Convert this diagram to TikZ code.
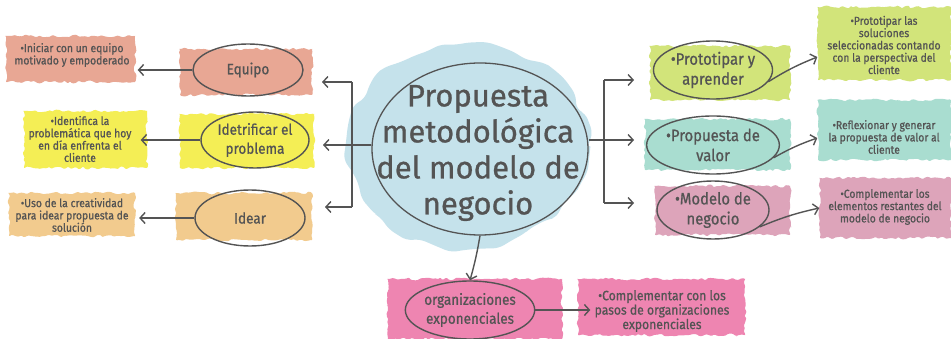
\documentclass[tikz,border=0pt]{standalone}
\usepackage{fontspec}
\newfontfamily\hand{Fira Sans}[FakeStretch=0.9,FakeBold=0.8]
\newfontfamily\bighand{Fira Sans}[FakeStretch=1.0,FakeBold=0.8]
\usetikzlibrary{shapes.geometric,arrows.meta,decorations.pathmorphing}
\definecolor{ink}{HTML}{545454}
\definecolor{cSalmon}{HTML}{E8A794}
\definecolor{cYellow}{HTML}{F4EE55}
\definecolor{cBeige}{HTML}{F2CB8E}
\definecolor{cLime}{HTML}{D2E47A}
\definecolor{cTeal}{HTML}{A9DDD0}
\definecolor{cMauve}{HTML}{DDA4BA}
\definecolor{cPink}{HTML}{EE85B1}
\definecolor{cBlue}{HTML}{BCDDE8}
\begin{document}
\begin{tikzpicture}[x=1pt,y=-1pt,
  blobdeco/.style={decorate,decoration={random steps,segment length=3pt,amplitude=1.5pt},rounded corners=1pt},
  bubble/.style={ellipse,draw=ink,line width=1.4pt,inner sep=0pt,align=center,text=ink,
    font=\hand\fontsize{15}{19}\selectfont},
  rbubble/.style={bubble,font=\hand\fontsize{16.5}{20}\selectfont},
  note/.style={align=center,inner sep=0pt,text=ink,font=\hand\fontsize{11.5}{12.3}\selectfont},
  arr/.style={draw=ink,line width=1.4pt,-{Straight Barb[length=5pt,width=11pt,line width=1.4pt]}},
  bracket/.style={draw=ink,line width=1.5pt}
]
\pgfmathsetseed{7}
\fill[white] (0,0) rectangle (951,339);
\useasboundingbox (0,0) rectangle (951,339);

% ---------- blobs (brush strokes) ----------
\fill[cSalmon,blobdeco] (6,36) rectangle (135,82);
\fill[cYellow,blobdeco] (24,111) rectangle (147,168);
\fill[cBeige,blobdeco] (9,193) rectangle (135,236);
\fill[cSalmon,blobdeco] (180,49) rectangle (312,95);
\fill[cYellow,blobdeco] (180,114) rectangle (314,168);
\fill[cBeige,blobdeco] (176,193) rectangle (312,240);
\fill[cBlue,opacity=0.85,decorate,decoration={random steps,segment length=14pt,amplitude=5pt},rounded corners=6pt]
  (468,146) ellipse [x radius=120pt,y radius=102pt];
\fill[cLime,blobdeco] (650,46) rectangle (790,100);
\fill[cTeal,blobdeco] (645,119) rectangle (790,170);
\fill[cMauve,blobdeco] (655,186) rectangle (790,235);
\fill[cLime,blobdeco] (818,7) rectangle (951,80);
\fill[cTeal,blobdeco] (818,100) rectangle (951,160);
\fill[cMauve,blobdeco] (820,178) rectangle (951,238);
\fill[cPink,blobdeco] (388,279) rectangle (562,339);
\fill[cPink,blobdeco] (578,279) rectangle (745,335);

% ---------- left notes ----------
\node[note,minimum width=129pt] (b1) at (72,55) {•Iniciar con un equipo\\motivado y empoderado};
\node[note,minimum width=123pt] (b2) at (80,139) {•Identifica la\\problemática que hoy\\en día enfrenta el\\cliente};
\node[note,minimum width=126pt] (b3) at (72,215) {•Uso de la creatividad\\para idear propuesta de\\solución};

% ---------- left bubbles ----------
\node[bubble,minimum width=110pt,minimum height=52pt] (e1) at (248,70) {Equipo};
\node[bubble,minimum width=108pt,minimum height=56pt] (e2) at (255,140) {Idetrificar el\\problema};
\node[bubble,minimum width=110pt,minimum height=56pt] (e3) at (250,218) {Idear};

% ---------- center ----------
\node[ellipse,draw=ink,line width=1.3pt,minimum width=216pt,minimum height=172pt,inner sep=0pt] (c) at (480,149) {};
\node[align=center,text=ink,inner sep=0pt,font=\bighand\fontsize{31}{36}\selectfont] (ct) at (478,153)
  {Propuesta\\metodológica\\del modelo de\\negocio};

% ---------- right bubbles ----------
\node[rbubble,minimum width=112pt,minimum height=58pt] (r1) at (713,70) {•Prototipar y\\aprender};
\node[rbubble,minimum width=116pt,minimum height=58pt] (r2) at (713,145) {•Propuesta de\\valor};
\node[rbubble,minimum width=112pt,minimum height=58pt] (r3) at (713,210) {•Modelo de\\negocio};

% ---------- right notes ----------
\node[note,minimum width=133pt] (g1) at (884,45) {•Prototipar las\\soluciones\\seleccionadas contando\\con la perspectiva del\\cliente};
\node[note,minimum width=133pt] (g2) at (884,137) {•Reflexionar y generar\\la propuesta de valor al\\cliente};
\node[note,minimum width=131pt] (g3) at (885,207) {•Complementar los\\elementos restantes del\\modelo de negocio};

% ---------- bottom ----------
\node[bubble,minimum width=114pt,minimum height=58pt] (o1) at (470,310) {organizaciones\\exponenciales};
\node[note,minimum width=167pt,font=\hand\fontsize{13.5}{12}\selectfont] (o2) at (662,311) {•Complementar con los\\pasos de organizaciones\\exponenciales};

% ---------- brackets ----------
\coordinate (lt) at (352,82);
\coordinate (lb) at (352,207);
\coordinate (lm) at (352,145);
\draw[bracket] (lt) -- (lb);
\draw[arr] (lt) -- (322,82);
\draw[arr] (lb) -- (325,207);
\draw[arr] (c.west |- lm) -- (323,145);

\coordinate (rt) at (604,80);
\coordinate (rb) at (604,203);
\coordinate (rm) at (604,140);
\draw[bracket] (rt) -- (rb);
\draw[arr] (rt) -- (634,80);
\draw[arr] (rb) -- (634,203);
\draw[arr] (c.east |- rm) -- (634,140);

% ---------- connectors ----------
\draw[arr] (e1.west) -- ([xshift=1pt]e1.west -| b1.east);
\draw[arr] (e2.west) -- ([xshift=-1pt]e2.west -| b2.east);
\draw[arr] (e3.west) -- ([xshift=4pt]e3.west -| b3.east);
\draw[arr] (r1.-12) to[bend left=5] (g1.west |- 0,57);
\draw[arr] (r2.-12) to[bend left=5] (g2.west |- 0,138);
\draw[arr] (r3.-20) to[bend left=5] (g3.west |- 0,208);
\draw[arr] (c.south) to[bend left=3] (o1.north);
\draw[arr] (o1.east) -- ([xshift=12pt]o1.east -| o2.west);
\end{tikzpicture}
\end{document}
